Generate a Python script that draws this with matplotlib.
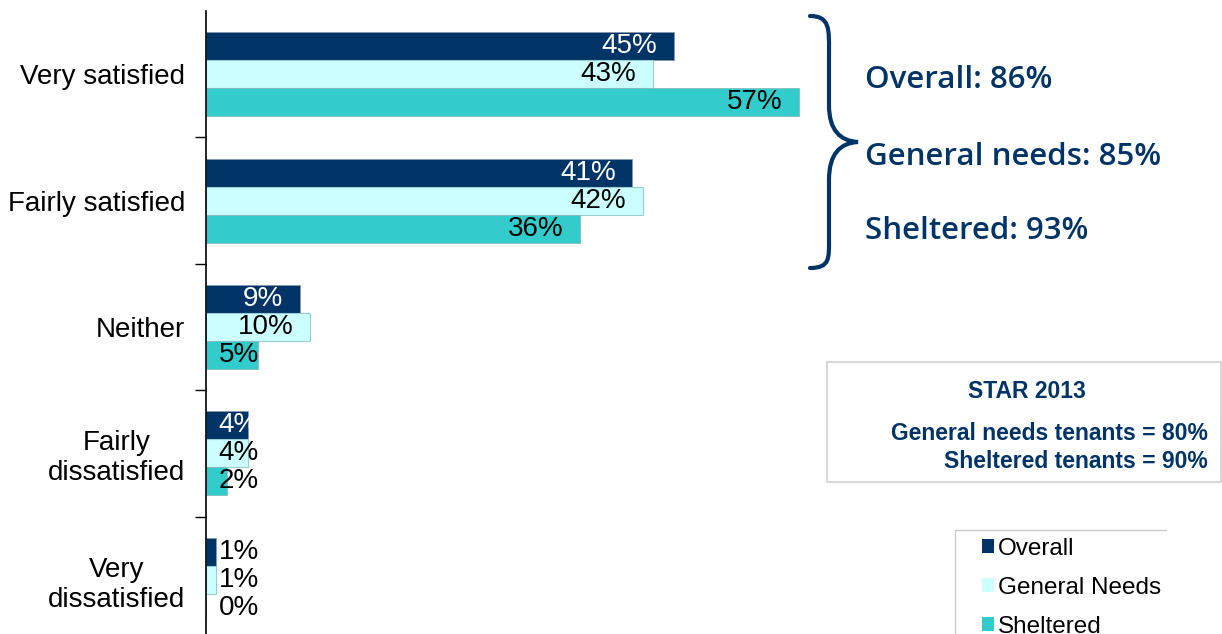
import matplotlib
matplotlib.use('Agg')
import matplotlib.pyplot as plt
from matplotlib.path import Path
from matplotlib.patches import PathPatch, Patch
from matplotlib.lines import Line2D
import numpy as np

# data
categories = ['Very satisfied', 'Fairly satisfied', 'Neither',
              'Fairly\ndissatisfied', 'Very\ndissatisfied']
overall = [45, 41, 9, 4, 1]
general_needs = [43, 42, 10, 4, 1]
sheltered = [57, 36, 5, 2, 0]
series_names = ['Overall', 'General Needs', 'Sheltered']
summary = ['Overall: 86%', 'General needs: 85%', 'Sheltered: 93%']
star_title = 'STAR 2013'
star_lines = ['General needs tenants = 80%', 'Sheltered tenants = 90%']

navy = '#003366'
pale = '#CCFFFF'
teal = '#33CCCC'

plt.rcParams['font.family'] = ['Liberation Sans', 'DejaVu Sans']

W, H = 1222, 634
fig = plt.figure(figsize=(W / 100, H / 100), dpi=100)

# axes placed in pixel terms (bottom runs past the figure edge like the source)
ax_left, ax_top, ax_h = 206, 11, 632
ax = fig.add_axes([ax_left / W, (H - ax_top - ax_h) / H, (W - ax_left) / W, ax_h / H])
px_per_pct = 10.4
ax.set_xlim(0, (W - ax_left) / px_per_pct)
ax.set_ylim(len(categories) - 0.5, -0.5)

y = np.arange(len(categories))
h = 28 / (ax_h / len(categories))

ax.barh(y - h, overall, height=h, color=navy, edgecolor='#8899AA', linewidth=0.6)
ax.barh(y, general_needs, height=h, color=pale, edgecolor='#99CCCC', linewidth=0.8)
ax.barh(y + h, sheltered, height=h, color=teal, edgecolor='#88BBBB', linewidth=0.6)

def label_pos(v):
    return max(v - 1.6, 5.1)

for i in range(len(categories)):
    for off, vals, col in [(-h, overall, 'white'), (0, general_needs, 'black'),
                           (h, sheltered, 'black')]:
        v = vals[i]
        c = col if v >= 3 else 'black'
        ax.text(label_pos(v), i + off, f'{v}%', ha='right', va='center',
                fontsize=20, color=c)

for s in ['top', 'right', 'bottom']:
    ax.spines[s].set_visible(False)
ax.spines['left'].set_linewidth(1.2)
ax.set_xticks([])
ax.set_yticks(y)
ax.set_yticklabels(categories, fontsize=20, ha='right', multialignment='center')
ax.tick_params(axis='y', which='major', length=0, pad=15)
ax.set_yticks(np.arange(0.5, len(categories) - 0.5, 1), minor=True)
ax.tick_params(axis='y', which='minor', length=8, width=1.0, direction='out')

# curly brace in pixel coordinates
def fx(x):
    return x / W

def fy(yy):
    return 1 - yy / H

pts = [(810, 16), (830, 16), (829, 30), (829, 50),
       (829, 105),
       (829, 130), (840, 141), (858, 142),
       (840, 143), (829, 154), (829, 180),
       (829, 240),
       (829, 258), (830, 268), (810, 268)]
codes = [Path.MOVETO, Path.CURVE4, Path.CURVE4, Path.CURVE4,
         Path.LINETO,
         Path.CURVE4, Path.CURVE4, Path.CURVE4,
         Path.CURVE4, Path.CURVE4, Path.CURVE4,
         Path.LINETO,
         Path.CURVE4, Path.CURVE4, Path.CURVE4]
brace = Path([(fx(a), fy(b)) for a, b in pts], codes)
fig.patches.append(PathPatch(brace, transform=fig.transFigure, fill=False,
                             edgecolor=navy, linewidth=3, capstyle='round'))

for txt, yy in zip(summary, [80, 157, 231]):
    fig.text(fx(865), fy(yy), txt, ha='left', va='center', fontsize=22.5,
             color=navy, family=['Open Sans', 'DejaVu Sans'], weight='semibold')

# STAR 2013 box
box_l, box_r, box_t, box_b = 827, 1221, 362, 482
fig.lines.append(Line2D([fx(box_l), fx(box_r), fx(box_r), fx(box_l), fx(box_l)],
                        [fy(box_t), fy(box_t), fy(box_b), fy(box_b), fy(box_t)],
                        transform=fig.transFigure, color='#D8D8D8', linewidth=1.5))
fig.text(fx(1027), fy(392), star_title, ha='center', va='center', fontsize=16.5,
         color=navy, weight='bold')
for txt, yy in zip(star_lines, [433, 461]):
    fig.text(fx(1208), fy(yy), txt, ha='right', va='center', fontsize=16.5,
             color=navy, weight='bold')

# legend frame: top and left edges only, the rest is cut off
fig.lines.append(Line2D([fx(1166), fx(955), fx(955)], [fy(530), fy(530), fy(640)],
                        transform=fig.transFigure, color='#CCCCCC', linewidth=1))
handles = [Patch(facecolor=navy), Patch(facecolor=pale), Patch(facecolor=teal)]
leg = fig.legend(handles, series_names, loc='upper left',
                 bbox_to_anchor=(fx(982), fy(538)), fontsize=17.5, frameon=False,
                 handlelength=0.5, handleheight=0.5, handletextpad=0.15,
                 labelspacing=0.7, borderpad=0, borderaxespad=0)

fig.savefig('out.png', dpi=100)
